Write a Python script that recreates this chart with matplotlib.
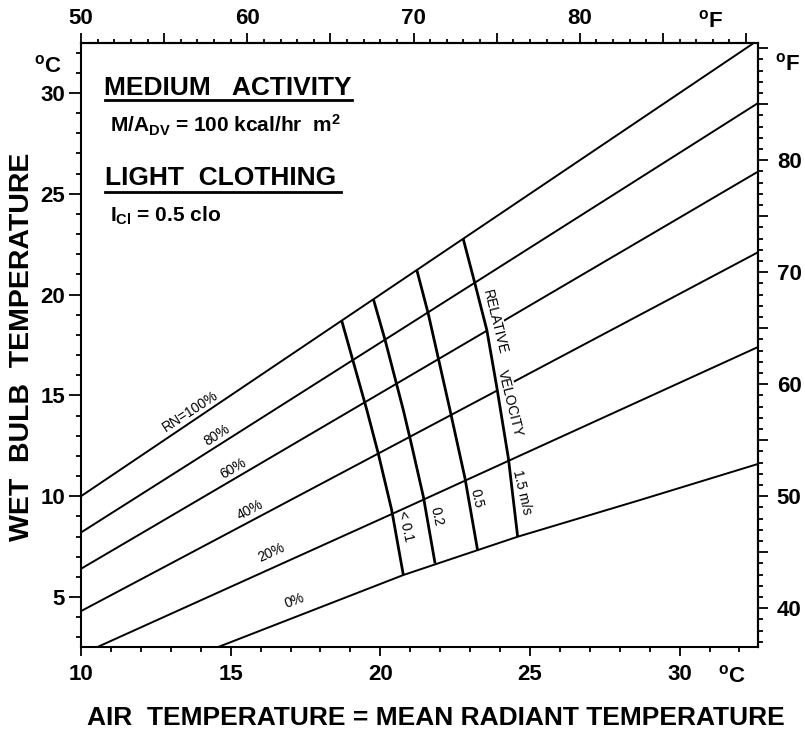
"""
Comfort chart: wet bulb vs air temperature, medium activity / light clothing
"""
import matplotlib
matplotlib.use('Agg')
import matplotlib.pyplot as plt
from matplotlib.ticker import MultipleLocator, FuncFormatter
from matplotlib.lines import Line2D

plt.rcParams['font.family'] = 'Liberation Sans'
plt.rcParams['font.weight'] = 'bold'
plt.rcParams['mathtext.fontset'] = 'custom'
plt.rcParams['mathtext.rm'] = 'Liberation Sans:bold'
plt.rcParams['mathtext.bf'] = 'Liberation Sans:bold'
plt.rcParams['mathtext.it'] = 'Liberation Sans:bold'

# relative humidity lines: air temperature (C) -> wet bulb temperature (C)
rh_labels = ['RN=100%', '80%', '60%', '40%', '20%', '0%']
rh_x = [
    [10.0, 32.62],
    [10.0, 32.62],
    [10.0, 32.62],
    [10.0, 32.62],
    [10.52, 20.66, 32.62],
    [14.55, 20.77, 24.59, 28.68, 32.62],
]
rh_y = [
    [10.0, 32.62],
    [8.2, 29.5],
    [6.4, 26.1],
    [4.3, 22.1],
    [2.5, 9.3, 17.4],
    [2.5, 6.09, 7.99, 9.81, 11.6],
]
# label anchor (centre) for each RH line
rh_lab_x = [13.64, 14.53, 15.08, 15.65, 16.37, 17.15]
rh_lab_y = [14.19, 13.04, 11.35, 9.32, 7.18, 4.81]
rh_lab_rot = [44, 43.3, 41.1, 38.2, 34.0, 29.0]

# relative velocity lines (from RN=100% down to 0%)
vel_labels = ['< 0.1', '0.2', '0.5', '1.5 m/s']
vel_x = [
    [18.71, 19.55, 19.93, 20.38, 20.77],
    [19.77, 20.16, 20.77, 21.06, 21.44, 21.83],
    [21.22, 21.60, 22.33, 22.83, 23.25],
    [22.77, 23.16, 23.56, 23.89, 24.28, 24.59],
]
vel_y = [
    [18.71, 14.28, 12.13, 9.32, 6.09],
    [19.77, 17.75, 14.27, 12.45, 9.97, 6.67],
    [21.22, 19.07, 14.27, 10.89, 7.33],
    [22.77, 20.56, 18.24, 15.43, 11.88, 7.99],
]
vel_lab_x = [20.83, 21.88, 23.22, 24.72]
vel_lab_y = [8.49, 8.98, 9.89, 10.22]


def c2f(c):
    return c * 9.0 / 5.0 + 32.0


def f2c(f):
    return (f - 32.0) * 5.0 / 9.0


def tens_only(v, pos):
    r = round(v)
    if abs(v - r) < 1e-6 and r % 10 == 0 and r < 90:
        return f'{r:d}'
    return ''


W, H = 805, 730
fig = plt.figure(figsize=(W / 100, H / 100), dpi=100)
ax = fig.add_axes([81 / W, 1 - 647 / H, 677 / W, 604 / H])
ax.set_xlim(10, 32.62)
ax.set_ylim(2.52, 32.48)

for xs, ys in zip(rh_x, rh_y):
    ax.plot(xs, ys, color='black', lw=1.4, zorder=2, solid_capstyle='butt')
for xs, ys in zip(vel_x, vel_y):
    ax.plot(xs, ys, color='black', lw=2.0, zorder=3, solid_capstyle='butt',
            solid_joinstyle='round')

for lab, x, y, r in zip(rh_labels, rh_lab_x, rh_lab_y, rh_lab_rot):
    ax.text(x, y, lab, fontsize=10, fontweight='normal', rotation=r,
            transform_rotates_text=True, ha='center', va='center',
            rotation_mode='anchor')
for lab, x, y in zip(vel_labels, vel_lab_x, vel_lab_y):
    ax.text(x, y, lab, fontsize=10, fontweight='normal', rotation=-77,
            ha='center', va='center', rotation_mode='anchor')
for lab, x, y in [('RELATIVE', 23.83, 18.66), ('VELOCITY', 24.33, 14.61)]:
    ax.text(x, y, lab, fontsize=10, fontweight='normal', rotation=-76,
            ha='center', va='center', rotation_mode='anchor', zorder=2.5,
            bbox=dict(facecolor='white', edgecolor='none', pad=1.5))

# axes styling
for s in ax.spines.values():
    s.set_linewidth(1.5)
ax.xaxis.set_major_locator(MultipleLocator(5))
ax.xaxis.set_minor_locator(MultipleLocator(1))
ax.yaxis.set_major_locator(MultipleLocator(5))
ax.yaxis.set_minor_locator(MultipleLocator(1))
ax.tick_params(axis='x', which='major', length=6.5, width=1.3, labelsize=16, pad=6)
ax.tick_params(axis='y', which='major', length=8.5, width=1.3, labelsize=16, pad=3)
ax.tick_params(which='minor', length=3.5, width=1.3)

top = ax.secondary_xaxis('top', functions=(c2f, f2c))
top.xaxis.set_major_locator(MultipleLocator(5))
top.xaxis.set_minor_locator(MultipleLocator(1))
top.xaxis.set_major_formatter(FuncFormatter(tens_only))
top.tick_params(which='major', length=7, width=1.3, labelsize=16, pad=3)
top.tick_params(which='minor', length=3, width=1.3)
top.spines['top'].set_linewidth(1.5)

right = ax.secondary_yaxis('right', functions=(c2f, f2c))
right.yaxis.set_major_locator(MultipleLocator(5))
right.yaxis.set_minor_locator(MultipleLocator(1))
right.yaxis.set_major_formatter(FuncFormatter(tens_only))
right.tick_params(which='major', length=7, width=1.3, labelsize=16, pad=6.5)
right.tick_params(which='minor', length=3.5, width=1.3)
right.spines['right'].set_linewidth(1.5)

# unit labels
deg = r'$^{\mathbf{o}}$'
fig.text(48 / W, 1 - 72 / H, deg + 'C', fontsize=16, ha='center', va='baseline')
fig.text(732 / W, 1 - 682 / H, deg + 'C', fontsize=16, ha='center', va='baseline')
fig.text(711 / W, 1 - 27 / H, deg + 'F', fontsize=16, ha='center', va='baseline')
fig.text(788 / W, 1 - 70 / H, deg + 'F', fontsize=16, ha='center', va='baseline')

# axis titles
fig.text(436 / W, 1 - 725 / H, 'AIR  TEMPERATURE = MEAN RADIANT TEMPERATURE',
         fontsize=19, ha='center', va='baseline')
fig.text(22 / W, 1 - 347 / H, 'WET  BULB  TEMPERATURE', fontsize=20.5,
         rotation=90, ha='center', va='center')

# header block
fig.text(104 / W, 1 - 95 / H, 'MEDIUM   ACTIVITY', fontsize=19, ha='left', va='baseline')
fig.add_artist(Line2D([105 / W, 352 / W], [1 - 99.5 / H] * 2, color='black', lw=2))
fig.text(110 / W, 1 - 132 / H, r'M/A$_{\mathbf{DV}}$ = 100 kcal/hr  m$^{\mathbf{2}}$',
         fontsize=15, ha='left', va='baseline')
fig.text(105 / W, 1 - 185 / H, 'LIGHT  CLOTHING', fontsize=19, ha='left', va='baseline')
fig.add_artist(Line2D([105 / W, 341 / W], [1 - 191.5 / H] * 2, color='black', lw=2))
fig.text(110 / W, 1 - 222 / H, r'I$_{\mathbf{Cl}}$ = 0.5 clo', fontsize=15,
         ha='left', va='baseline')

fig.savefig('out.png', dpi=100)
